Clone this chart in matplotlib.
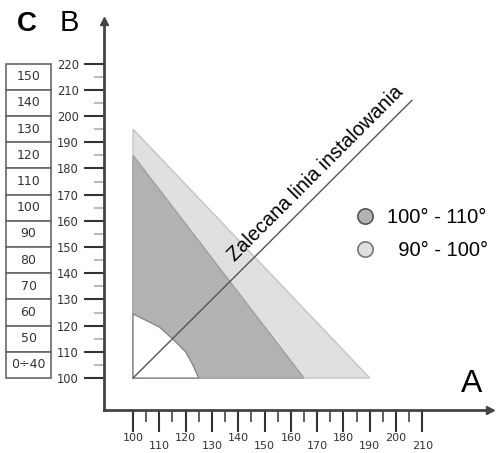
import matplotlib
matplotlib.use("Agg")
import matplotlib.pyplot as plt
from matplotlib.lines import Line2D

# data
light_x = [100, 100, 190]
light_y = [100, 195, 100]
dark_x = [100, 100, 165]
dark_y = [100, 185, 100]
white_x = [100, 100, 105, 110, 115, 120, 122.5, 125]
white_y = [100, 124.5, 122, 119.5, 115, 110, 105.5, 100]
line_x = [100, 206]
line_y = [100, 206]

b_ticks = list(range(100, 230, 10))
a_ticks = list(range(100, 220, 10))
c_labels = ["150", "140", "130", "120", "110", "100", "90", "80", "70", "60", "50", "0÷40"]
c_centers = [215 - 10 * i for i in range(len(c_labels))]

legend_labels = ["100° - 110°", "  90° - 100°"]
light_col = "#e0e0e0"
dark_col = "#b2b2b2"

fig = plt.figure(figsize=(4.96, 4.53), dpi=100)
ax = fig.add_axes([104 / 496, 43 / 453, 386 / 496, 389 / 453])
ax.set_xlim(88.97, 235.7)
ax.set_ylim(87.8, 236.3)

ax.fill(light_x, light_y, facecolor=light_col, edgecolor="#c4c4c4", lw=1)
ax.fill(dark_x, dark_y, facecolor=dark_col, edgecolor="#a0a0a0", lw=1)
ax.fill(white_x, white_y, facecolor="white", edgecolor="#888888", lw=1)
ax.plot(line_x, line_y, color="#555555", lw=1)

ax.annotate("Zalecana linia instalowania", xy=(141.5, 141.5), xytext=(-5, 5),
            textcoords="offset points", rotation=45, rotation_mode="anchor",
            ha="left", va="baseline", fontsize=14.3, family="Liberation Sans",
            color="black")

for s in ["top", "right"]:
    ax.spines[s].set_visible(False)
for s in ["left", "bottom"]:
    ax.spines[s].set_color("#444444")
    ax.spines[s].set_linewidth(2)
ax.plot(0, 1, marker="^", ms=6, color="#444444", transform=ax.transAxes, clip_on=False)
ax.plot(1, 0, marker=">", ms=6, color="#444444", transform=ax.transAxes, clip_on=False)

ax.set_yticks(b_ticks)
ax.set_yticklabels([str(t) for t in b_ticks])
ax.set_yticks([t + 5 for t in b_ticks[:-1]], minor=True)
ax.tick_params(axis="y", which="major", length=14.4, width=1.5, color="#333333",
               pad=3.6, labelsize=8.3, labelcolor="#333333")
ax.tick_params(axis="y", which="minor", length=7, width=1.5, color="#bbbbbb")

ax.set_xticks(a_ticks)
ax.set_xticklabels([str(t) if i % 2 == 0 else "\n" + str(t) for i, t in enumerate(a_ticks)])
ax.set_xticks([t + 5 for t in a_ticks[:-1]], minor=True)
ax.tick_params(axis="x", which="major", length=15.8, width=1.5, color="#333333",
               pad=0.5, labelsize=8, labelcolor="#333333")
ax.tick_params(axis="x", which="minor", length=8.6, width=1.2, color="#444444")
for lab in ax.get_xticklabels():
    lab.set_linespacing(0.82)

handles = [Line2D([], [], ls="", marker="o", ms=11, mfc=dark_col, mec="#555555", mew=1.2),
           Line2D([], [], ls="", marker="o", ms=11, mfc=light_col, mec="#777777", mew=1.2)]
ax.legend(handles, legend_labels, loc="center left", bbox_to_anchor=(355 / 496, 1 - 234 / 453),
          bbox_transform=fig.transFigure, frameon=False, handletextpad=0.6,
          labelspacing=0.72, prop={"family": "Liberation Sans", "size": 14.5},
          handlelength=1.0, borderaxespad=0, borderpad=0)

# C column boxes
axc = fig.add_axes([6 / 496, 43 / 453, 45 / 496, 389 / 453])
axc.set_xlim(0, 1)
axc.set_ylim(87.8, 236.3)
axc.barh(c_centers, [1] * len(c_centers), height=10, left=0, color="white",
         edgecolor="#666666", lw=1.2, clip_on=False)
for y, lab in zip(c_centers, c_labels):
    axc.text(0.5, y, lab, ha="center", va="center", fontsize=9, color="#333333")
axc.axis("off")

fig.text(27 / 496, 1 - 24 / 453, "C", ha="center", va="center", fontsize=20,
         fontweight="bold", family="Liberation Sans")
fig.text(69 / 496, 1 - 23 / 453, "B", ha="center", va="center", fontsize=21,
         family="Liberation Sans")
fig.text(472 / 496, 1 - 384 / 453, "A", ha="center", va="center", fontsize=23,
         family="Liberation Sans")

fig.savefig("out.png", dpi=100)
